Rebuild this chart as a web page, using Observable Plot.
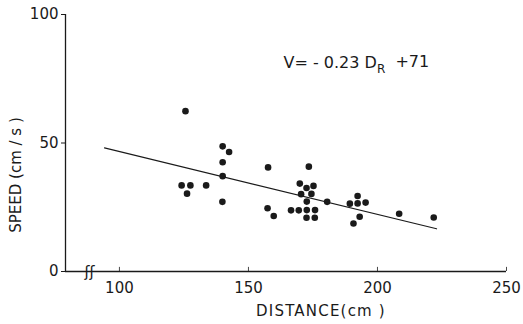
<!DOCTYPE html>
<html>
<head>
<meta charset="utf-8">
<script src="https://cdn.jsdelivr.net/npm/d3@7"></script>
<script src="https://cdn.jsdelivr.net/npm/@observablehq/plot@0.6"></script>
<style>
  html, body { margin: 0; padding: 0; background: #fff; }
  svg { display: block; }
</style>
</head>
<body>
<div id="chart"></div>
<script>
// Data
const distance = [125.6, 140.0, 142.5, 140.0, 140.0, 124.1, 127.5, 126.2, 133.6, 139.9,
  157.6, 173.4, 169.9, 172.5, 175.2, 170.4, 174.4, 172.6, 180.5, 157.4,
  159.8, 166.5, 169.5, 172.6, 175.8, 172.5, 175.7, 189.3, 192.3, 192.3,
  195.4, 193.1, 190.7, 208.4, 221.8];
const speed = [62.4, 48.7, 46.5, 42.5, 37.1, 33.5, 33.5, 30.3, 33.5, 27.1,
  40.5, 40.8, 34.2, 32.5, 33.3, 30.1, 30.2, 27.2, 27.1, 24.6,
  21.6, 23.8, 23.8, 23.9, 23.9, 20.9, 20.9, 26.4, 29.4, 26.5,
  26.8, 21.3, 18.7, 22.5, 21.0];
// regression line as drawn (end points)
const fitDistance = [94.2, 222.9];
const fitSpeed = [48.1, 16.6];
const xTicks = [100, 150, 200, 250];
const yTicks = [0, 50, 100];
const xDomain = [79.1, 250];
const yDomain = [0, 100];
const xLabel = "DISTANCE(cm )";
const yLabel = "SPEED (cm / s )";
const equation = "V= - 0.23 D|R|  +71";
const equationPos = {x: 163.6, y: 81.0};
const breakPos = {x: 88.4, y: 0};

const points = distance.map((d, i) => ({d, v: speed[i]}));
const fit = fitDistance.map((d, i) => ({d, v: fitSpeed[i]}));

const font = "DejaVu Sans, sans-serif";
const ink = "#1a1a1a";

const chart = Plot.plot({
  width: 523,
  height: 324,
  marginLeft: 65,
  marginRight: 17,
  marginTop: 14,
  marginBottom: 53,
  style: {fontFamily: font, color: ink, background: "#fff"},
  x: {domain: xDomain, axis: null},
  y: {domain: yDomain, axis: null},
  marks: [
    Plot.ruleY([0], {stroke: ink, strokeWidth: 1.3}),
    Plot.ruleX([xDomain[0]], {stroke: ink, strokeWidth: 1.3}),
    Plot.axisY({ticks: yTicks, tickSize: 4, tickPadding: 3, fontSize: 15, label: null, stroke: ink, fill: ink}),
    Plot.axisX({ticks: xTicks, tickSize: 0, tickPadding: 11, fontSize: 15, label: null, fill: ink}),
    Plot.ruleX(xTicks, {y1: 0, y2: 1.6, stroke: ink, strokeWidth: 0.8}),
    Plot.text([breakPos], {x: "x", y: "y", text: () => "ʃʃ", fontSize: 15, fill: ink, dy: 1}),
    Plot.line(fit, {x: "d", y: "v", stroke: ink, strokeWidth: 1.1}),
    Plot.dot(points, {x: "d", y: "v", r: 3.3, fill: ink, stroke: "none"}),
    Plot.text([equationPos], {x: "x", y: "y", text: () => equation, textAnchor: "start", fontSize: 16, fill: ink, className: "eqn"})
  ]
});

// axis titles as real text in the svg
const svg = d3.select(chart);
svg.append("text")
  .attr("x", 321).attr("y", 311)
  .attr("text-anchor", "middle").attr("dominant-baseline", "middle")
  .attr("font-size", 15).attr("letter-spacing", 1.2).attr("fill", ink).attr("font-family", font)
  .text(xLabel);
svg.append("text")
  .attr("transform", "translate(16,175) rotate(-90)")
  .attr("text-anchor", "middle").attr("dominant-baseline", "middle")
  .attr("font-size", 15).attr("fill", ink).attr("font-family", font)
  .text(yLabel);

// subscript in the equation
svg.selectAll(".eqn text").each(function() {
  const t = d3.select(this);
  const parts = t.text().split("|");
  t.text(null);
  t.append("tspan").text(parts[0]);
  t.append("tspan").attr("dy", "0.35em").attr("font-size", 12).text(parts[1]);
  t.append("tspan").attr("dy", "-0.35em").attr("font-size", 16).attr("xml:space", "preserve").style("white-space", "pre").text(parts[2]);
});

document.getElementById("chart").appendChild(chart);
</script>
</body>
</html>
